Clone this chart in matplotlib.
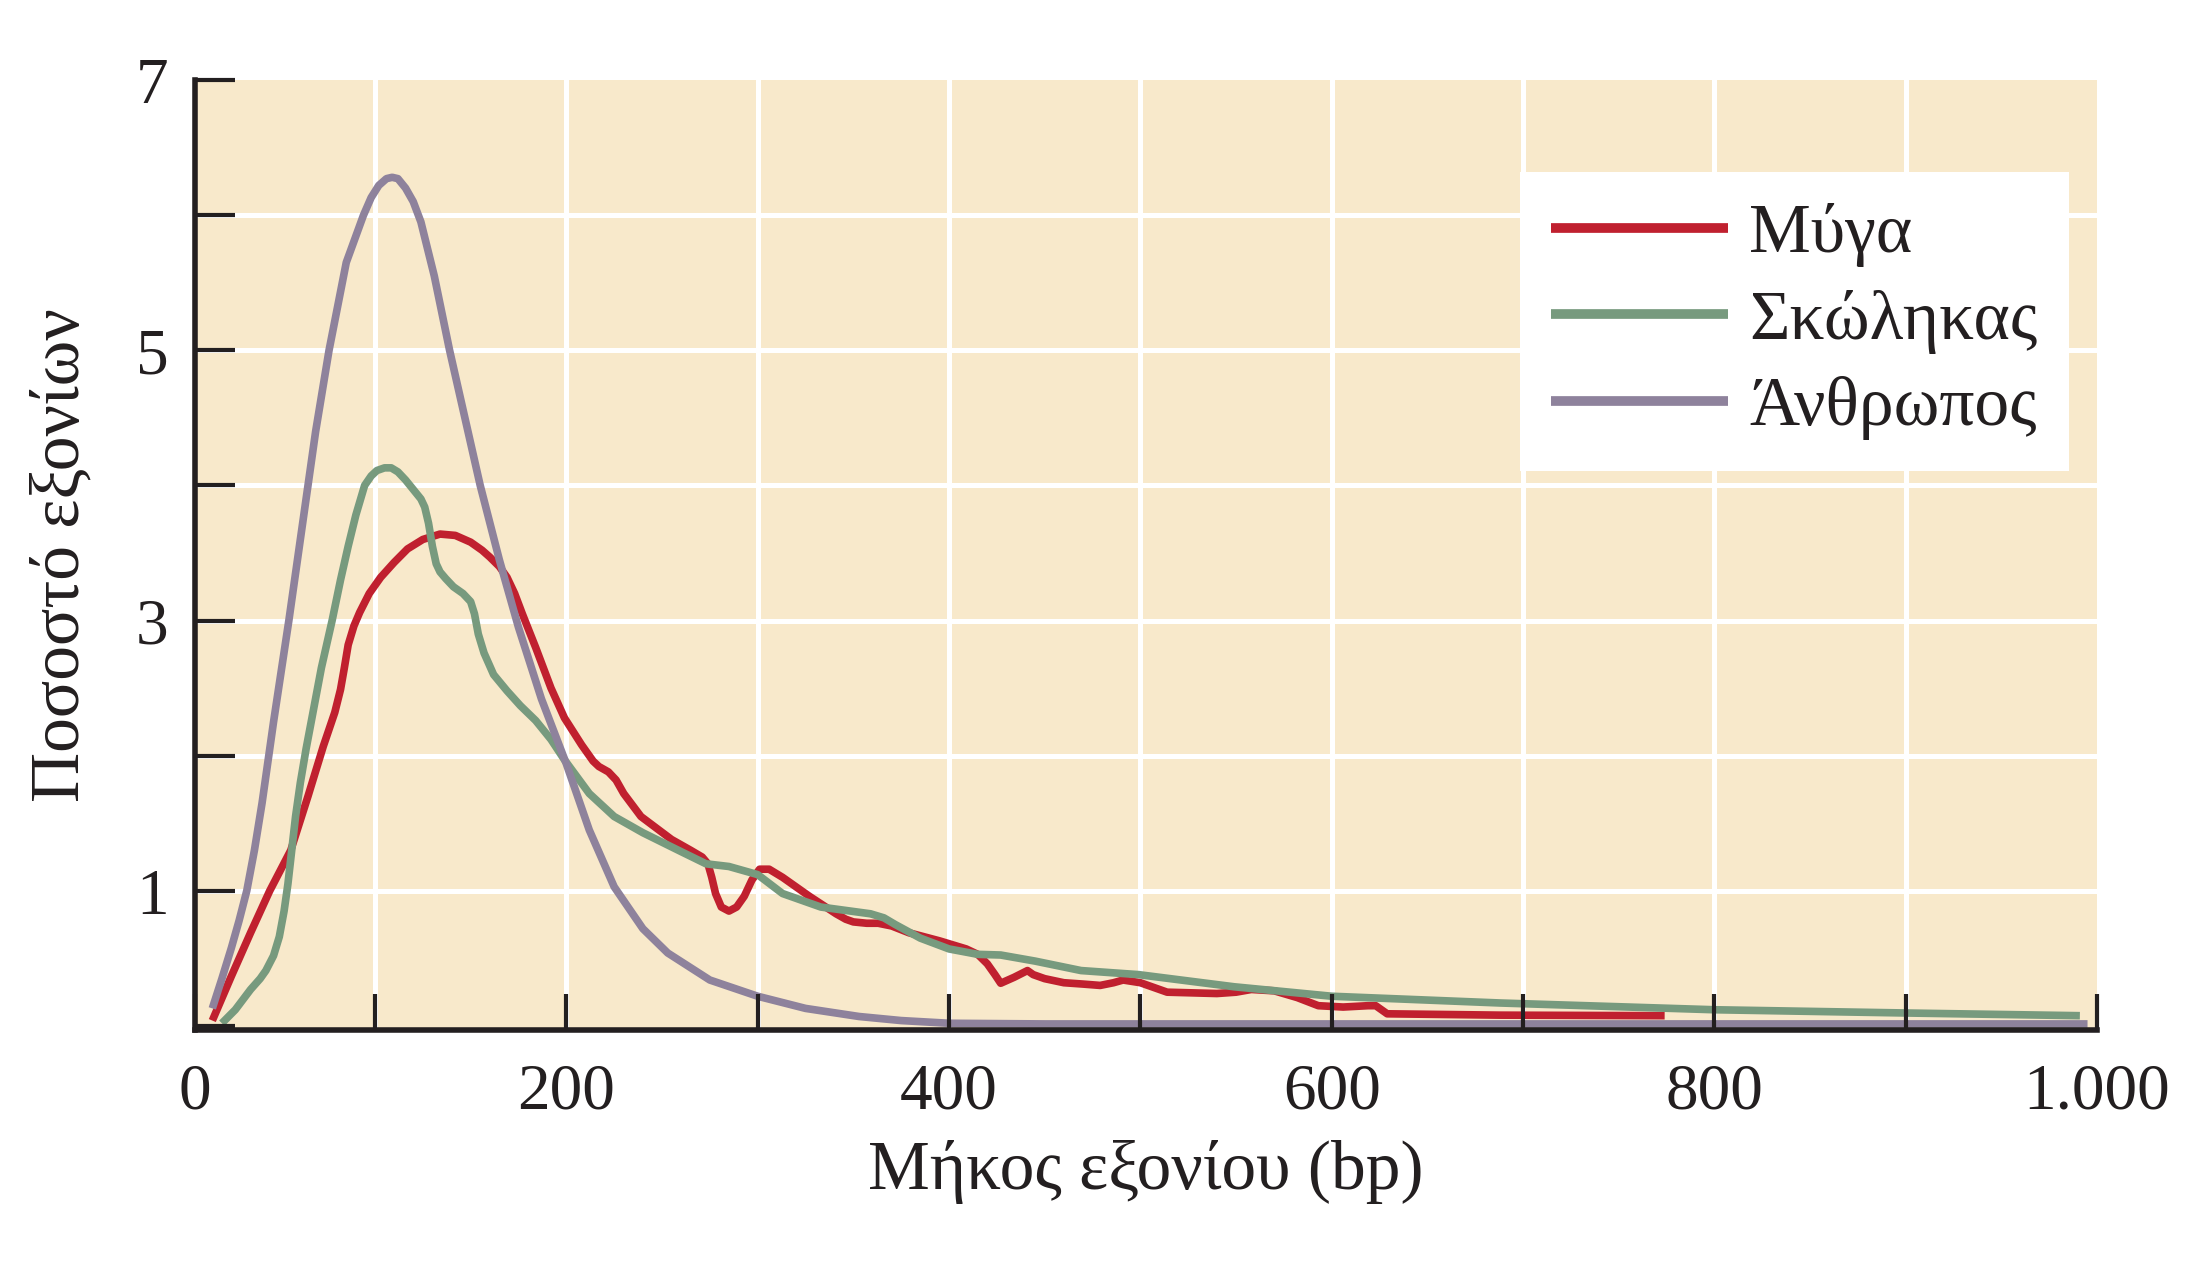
import numpy as np
from matplotlib import pyplot as plt

plt.rcParams['font.family'] = ['Liberation Serif', 'DejaVu Serif']

# exon length (bp) vs percent of exons
fly_x = [15, 25, 35, 45, 56, 65, 73, 79, 82, 84, 86, 89, 92, 97, 103, 110, 117, 125, 134, 142, 150,
         156, 160, 165, 169, 173, 177, 184, 192, 199, 208, 214, 217, 222, 226, 230, 239, 255, 265,
         271, 274, 276, 278, 281, 285, 289, 293, 297, 301, 306, 313, 327, 341, 346, 350, 357, 363,
         370, 379, 395, 409, 415, 420, 424, 427, 434, 441, 444, 450, 460, 470, 479, 486, 491, 500,
         514, 540, 550, 558, 570, 582, 593, 606, 619, 623, 625, 629, 688, 774]
fly_y = [0.04, 0.37, 0.69, 1.0, 1.3, 1.7, 2.07, 2.32, 2.49, 2.65, 2.82, 2.96, 3.06, 3.2, 3.32, 3.43,
         3.53, 3.6, 3.64, 3.63, 3.58, 3.52, 3.47, 3.4, 3.32, 3.2, 3.05, 2.8, 2.5, 2.28, 2.08, 1.96,
         1.92, 1.88, 1.82, 1.72, 1.55, 1.38, 1.3, 1.25, 1.2, 1.1, 0.98, 0.88, 0.85, 0.88, 0.96, 1.08,
         1.16, 1.16, 1.10, 0.96, 0.83, 0.79, 0.77, 0.76, 0.76, 0.74, 0.69, 0.63, 0.57, 0.53, 0.46,
         0.38, 0.316, 0.36, 0.41, 0.38, 0.35, 0.32, 0.31, 0.30, 0.32, 0.34, 0.32, 0.25, 0.24, 0.25,
         0.27, 0.26, 0.21, 0.15, 0.14, 0.15, 0.15, 0.13, 0.09, 0.08, 0.076]

worm_x = [20, 27, 35, 40, 43, 47, 50, 52.5, 54.5, 56.5, 58.5, 61, 64, 68, 72, 77.6, 82, 86, 90, 94.6,
          98, 101, 105, 108.5, 112, 116, 120, 124, 126, 128, 130, 132, 134, 137, 141, 146, 150, 152,
          154, 157, 162, 169, 176, 184, 192, 199, 212, 225, 240, 260, 273, 285, 300, 313, 333, 359,
          366, 372, 385, 400, 415, 427, 445, 469, 499, 549, 600, 688, 800, 900, 991]
worm_y = [0.02, 0.12, 0.27, 0.35, 0.41, 0.52, 0.66, 0.85, 1.05, 1.3, 1.55, 1.8, 2.05, 2.35, 2.65, 3.0,
          3.3, 3.55, 3.78, 4.0, 4.07, 4.11, 4.13, 4.13, 4.1, 4.04, 3.97, 3.9, 3.84, 3.72, 3.55, 3.42,
          3.36, 3.31, 3.25, 3.2, 3.14, 3.05, 2.9, 2.76, 2.6, 2.48, 2.37, 2.26, 2.12, 1.97, 1.72, 1.55,
          1.43, 1.29, 1.2, 1.18, 1.12, 0.98, 0.88, 0.83, 0.8, 0.75, 0.65, 0.57, 0.53, 0.525, 0.48,
          0.41, 0.38, 0.29, 0.22, 0.17, 0.12, 0.096, 0.076]

human_x = [15, 20, 25, 29, 33, 37, 41, 47, 55, 62, 69, 76, 85, 94, 98, 102, 106, 109, 112, 116, 120,
           124, 131, 139, 147, 155, 165, 175, 187, 200, 212, 225, 240, 253, 275, 300, 325, 353, 375,
           400, 450, 600, 800, 995]
human_y = [0.13, 0.35, 0.58, 0.78, 1.0, 1.3, 1.65, 2.25, 3.0, 3.7, 4.4, 5.0, 5.65, 6.0, 6.13, 6.22,
           6.27, 6.28, 6.27, 6.2, 6.1, 5.95, 5.55, 5.0, 4.5, 4.0, 3.45, 2.95, 2.42, 1.94, 1.45, 1.03,
           0.72, 0.54, 0.34, 0.22, 0.13, 0.07, 0.04, 0.02, 0.015, 0.015, 0.015, 0.015]

series = [('Μύγα', fly_x, fly_y, '#c0202f'),
          ('Σκώληκας', worm_x, worm_y, '#779a7e'),
          ('Άνθρωπος', human_x, human_y, '#8e829c')]

x_ticks = [6, 100, 200, 300, 400, 500, 600, 700, 800, 900, 1000]
x_labels = ['0', '', '200', '', '400', '', '600', '', '800', '', '1.000']
y_ticks = [0, 1, 2, 3, 4, 5, 6, 7]
y_labels = ['', '1', '', '3', '', '5', '', '7']

ink = '#231f20'

fig = plt.figure(figsize=(22.07, 12.66), dpi=100)
ax = fig.add_axes([0.0884, 0.1864, 0.8618, 0.7504])
ax.set_facecolor('#f8e9cb')
ax.set_xlim(6, 1000)
ax.set_ylim(-0.03, 7)

# white grid drawn by hand so the ticks can stay on top of the curves
for x in x_ticks[1:-1]:
    ax.axvline(x, color='white', lw=3.6, zorder=1)
for y in y_ticks[1:-1]:
    ax.axhline(y, color='white', lw=3.6, zorder=1)

for name, xs, ys, c in series:
    ax.plot(xs, ys, color=c, lw=5.5, label=name, solid_capstyle='butt',
            solid_joinstyle='round', zorder=2)

ax.set_axisbelow(False)
ax.set_xticks(x_ticks)
ax.set_xticklabels(x_labels)
ax.set_yticks(y_ticks)
ax.set_yticklabels(y_labels)
ax.tick_params(axis='x', direction='in', length=26, width=3, color=ink, labelcolor=ink,
               labelsize=47, pad=24)
ax.tick_params(axis='y', direction='in', length=29, width=3, color=ink, labelcolor=ink,
               labelsize=47, pad=19)

for s in ['top', 'right']:
    ax.spines[s].set_visible(False)
for s in ['left', 'bottom']:
    ax.spines[s].set_linewidth(4)
    ax.spines[s].set_color(ink)

ax.set_xlabel('Μήκος εξονίου (bp)', fontsize=50, color=ink, labelpad=12)
ax.set_ylabel('Ποσοστό εξονίων', fontsize=50, color=ink, labelpad=31)

leg = ax.legend(loc='upper right', bbox_to_anchor=(0.985, 0.903), borderaxespad=0,
                fontsize=50, frameon=True, fancybox=False, facecolor='white', edgecolor='none',
                framealpha=1, borderpad=0.45, labelspacing=0.32, handlelength=2.55,
                handletextpad=0.3)
for line in leg.get_lines():
    line.set_linewidth(7)
for t in leg.get_texts():
    t.set_color(ink)

fig.savefig('out.png', dpi=100)
